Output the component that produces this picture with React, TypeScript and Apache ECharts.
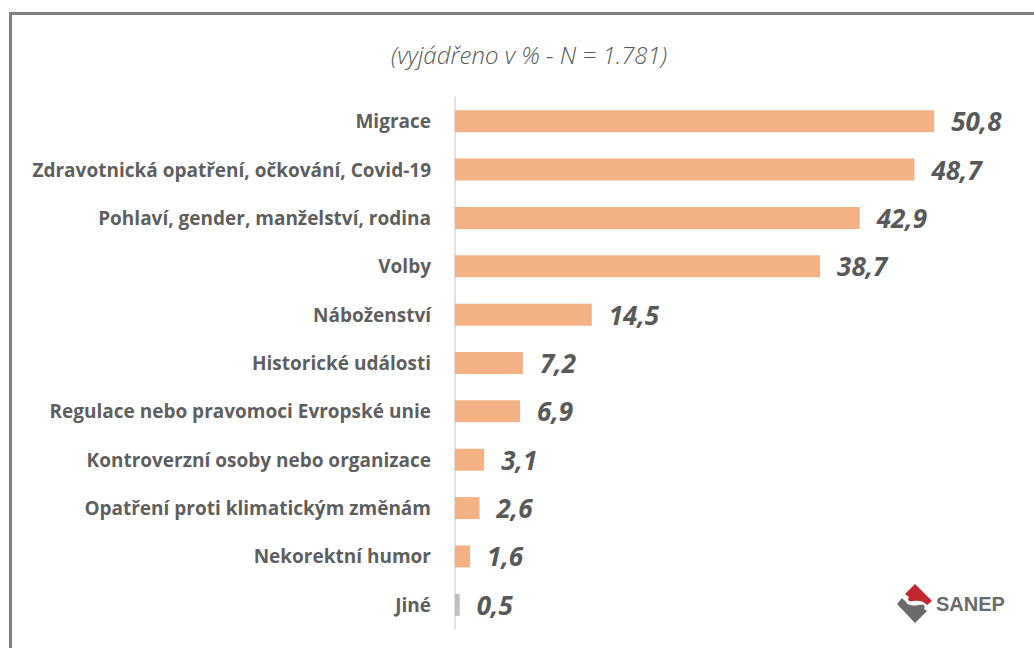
import React, { useEffect, useRef } from "react";
import * as echarts from "echarts";

const categories = [
  "Migrace",
  "Zdravotnická opatření, očkování, Covid-19",
  "Pohlaví, gender, manželství, rodina",
  "Volby",
  "Náboženství",
  "Historické události",
  "Regulace nebo pravomoci Evropské unie",
  "Kontroverzní osoby nebo organizace",
  "Opatření proti klimatickým změnám",
  "Nekorektní humor",
  "Jiné",
];
const values = [50.8, 48.7, 42.9, 38.7, 14.5, 7.2, 6.9, 3.1, 2.6, 1.6, 0.5];
const barColors = [
  "#f4b183", "#f4b183", "#f4b183", "#f4b183", "#f4b183", "#f4b183",
  "#f4b183", "#f4b183", "#f4b183", "#f4b183", "#bfbfbf",
];
const titleText = "(vyjádřeno v % - N = 1.781)";

echarts.graphic.registerShape(
  "sanepRed",
  echarts.graphic.extendPath(
    "M18 0 L35 17 L30 21 C27 17 22 16 16 17 C12 18 10 16 12 13 L8 10 Z",
    {}
  )
);
echarts.graphic.registerShape(
  "sanepGray",
  echarts.graphic.extendPath(
    "M5 14 L9 18 C11 22 17 22 22 21 C27 20 29 22 27 25 L30 27 L18 39 L0 20 Z",
    {}
  )
);

export default function App() {
  const ref = useRef<HTMLDivElement>(null);
  useEffect(() => {
    if (!ref.current) return;
    const chart = echarts.init(ref.current, undefined, { renderer: "svg" });
    chart.setOption({
      animation: false,
      backgroundColor: "#ffffff",
      title: {
        text: titleText,
        left: 524,
        textAlign: "center",
        top: 37,
        textStyle: {
          fontFamily: "Open Sans",
          fontStyle: "italic",
          fontWeight: 300,
          fontSize: 24,
          color: "#595959",
        },
      },
      grid: { left: 455, top: 97, height: 532, width: 566 },
      xAxis: {
        type: "value",
        min: 0,
        max: 60,
        show: false,
      },
      yAxis: {
        type: "category",
        data: categories,
        inverse: true,
        axisLine: { show: true, lineStyle: { color: "#d9d9d9", width: 1.5 } },
        axisTick: { show: false },
        axisLabel: {
          margin: 24,
          fontFamily: "Open Sans",
          fontWeight: "bold",
          fontSize: 19,
          color: "#5f5f5f",
        },
      },
      series: [
        {
          type: "bar",
          data: values.map((v, i) => ({ value: v, itemStyle: { color: barColors[i] } })),
          barWidth: 22,
          label: {
            show: true,
            position: "right",
            distance: 17,
            formatter: (p: any) => String(p.value).replace(".", ","),
            fontFamily: "Open Sans",
            fontWeight: "bold",
            fontStyle: "italic",
            fontSize: 26,
            color: "#595959",
          },
        },
      ],
      graphic: [
        { type: "rect", shape: { x: 9, y: 12, width: 1025, height: 3 }, style: { fill: "#808080" } },
        { type: "rect", shape: { x: 9, y: 12, width: 3, height: 636 }, style: { fill: "#808080" } },
        {
          type: "group",
          x: 897,
          y: 584,
          children: [
            { type: "sanepRed", style: { fill: "#c1272d" } },
            { type: "sanepGray", style: { fill: "#6b6b6b" } },
          ],
        },
        {
          type: "text",
          x: 936,
          y: 604,
          style: {
            text: "SANEP",
            fontFamily: "Liberation Sans",
            fontWeight: "bold",
            fontSize: 20,
            fill: "#6b6b6b",
            verticalAlign: "middle",
          },
        },
      ],
    });
    return () => chart.dispose();
  }, []);
  return (
    <div
      ref={ref}
      style={{ position: "absolute", left: 0, top: 0, width: 1034, height: 648 }}
    />
  );
}
